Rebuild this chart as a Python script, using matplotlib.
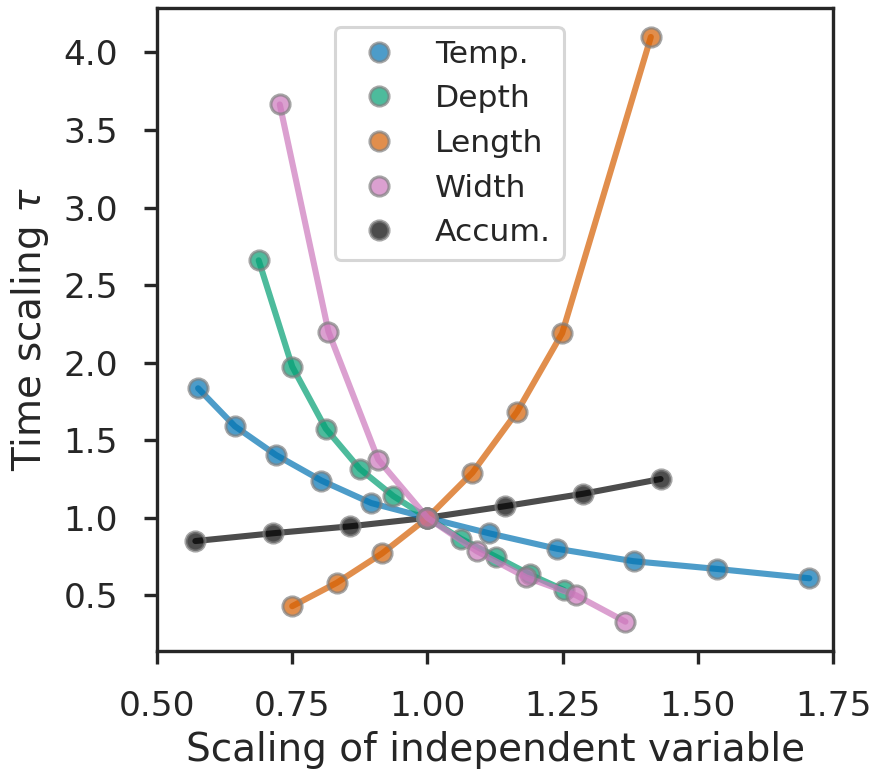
import matplotlib
matplotlib.use("Agg")
import matplotlib.pyplot as plt
import seaborn as sns

sns.set_theme(style="ticks", context="poster")
plt.rcParams['font.family'] = ['DejaVu Sans']

series_names = ["Temp.", "Depth", "Length", "Width", "Accum."]
series_colors = ["#0173b2", "#029e73", "#d55e00", "#cc78bc", "#000000"]
series_z = [3, 4, 5, 6, 2]

temp_x = [0.576, 0.644, 0.720, 0.804, 0.896, 1.0, 1.114, 1.240, 1.381, 1.536, 1.706]
temp_y = [1.835, 1.59, 1.405, 1.24, 1.095, 1.0, 0.90, 0.80, 0.72, 0.67, 0.61]

depth_x = [0.688, 0.750, 0.812, 0.875, 0.937, 1.0, 1.062, 1.126, 1.189, 1.252]
depth_y = [2.66, 1.975, 1.575, 1.315, 1.14, 1.0, 0.865, 0.75, 0.635, 0.535]

length_x = [0.750, 0.832, 0.916, 1.0, 1.083, 1.166, 1.249, 1.413]
length_y = [0.43, 0.58, 0.77, 1.0, 1.29, 1.685, 2.19, 4.10]

width_x = [0.727, 0.817, 0.909, 1.0, 1.091, 1.183, 1.275, 1.366]
width_y = [3.665, 2.20, 1.375, 1.0, 0.785, 0.615, 0.50, 0.33]

accum_x = [0.571, 0.714, 0.857, 1.0, 1.144, 1.288, 1.431]
accum_y = [0.85, 0.90, 0.945, 1.0, 1.075, 1.155, 1.25]

xs = [temp_x, depth_x, length_x, width_x, accum_x]
ys = [temp_y, depth_y, length_y, width_y, accum_y]

fig = plt.figure(figsize=(877 / 110, 774 / 110), dpi=110)
ax = fig.add_axes([0.179, 0.159, 0.771, 0.831])

for name, color, x, y, z in zip(series_names, series_colors, xs, ys, series_z):
    ax.plot(x, y, '-', color=color, alpha=0.7, lw=4, zorder=z)
    ax.plot(x, y, 'o', color=color, alpha=0.7, ms=12.5, mec='gray', mew=2,
            label=name, zorder=z + 0.5)

ax.set_xlim(0.5, 1.75)
ax.set_xticks([0.5, 0.75, 1.0, 1.25, 1.5, 1.75])
ax.set_xticklabels(["0.50", "0.75", "1.00", "1.25", "1.50", "1.75"])
ax.set_yticks([0.5, 1.0, 1.5, 2.0, 2.5, 3.0, 3.5, 4.0])
ax.tick_params(axis='both', length=8.5, width=2.2, pad=17, labelsize=22.5)
for sp in ax.spines.values():
    sp.set_linewidth(2.2)
ax.set_xlabel("Scaling of independent variable", fontsize=25.5, labelpad=5)
ax.set_ylabel(r"Time scaling $\tau$", fontsize=25.5, labelpad=8)

ax.legend(loc="upper left", bbox_to_anchor=(0.263, 0.97), borderaxespad=0,
          numpoints=1, fontsize=20.5)

fig.savefig("out.png", dpi=110)
